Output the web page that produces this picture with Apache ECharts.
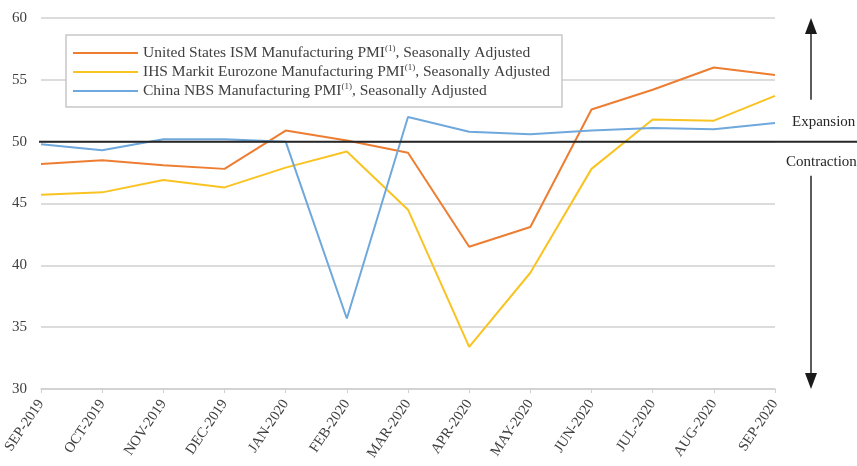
<!DOCTYPE html>
<html lang="en" style="height: 100%">
<head>
    <meta charset="utf-8">
    <title>Manufacturing PMI</title>
    <script src="https://cdn.jsdelivr.net/npm/echarts@6.0.0/dist/echarts.min.js"></script>
</head>
<body style="height: 100%; margin: 0; background: #fff">
<div id="container" style="width: 857px; height: 466px"></div>
<script type="text/javascript">
    const months = ['SEP-2019', 'OCT-2019', 'NOV-2019', 'DEC-2019', 'JAN-2020', 'FEB-2020', 'MAR-2020',
        'APR-2020', 'MAY-2020', 'JUN-2020', 'JUL-2020', 'AUG-2020', 'SEP-2020'];
    const usIsm = [48.2, 48.5, 48.1, 47.8, 50.9, 50.1, 49.1, 41.5, 43.1, 52.6, 54.2, 56.0, 55.4];
    const euroIhs = [45.7, 45.9, 46.9, 46.3, 47.9, 49.2, 44.5, 33.4, 39.4, 47.8, 51.8, 51.7, 53.7];
    const chinaNbs = [49.8, 49.3, 50.2, 50.2, 50.0, 35.7, 52.0, 50.8, 50.6, 50.9, 51.1, 51.0, 51.5];
    const seriesNames = ['United States ISM Manufacturing PMI', 'IHS Markit Eurozone Manufacturing PMI', 'China NBS Manufacturing PMI'];
    const threshold = 50;

    var font = '"Liberation Serif", "DejaVu Serif", serif';
    var dom = document.getElementById('container');
    var myChart = echarts.init(dom, null, {renderer: 'canvas'});

    function line(name, data, color) {
        return {
            name: name,
            type: 'line',
            data: data,
            symbol: 'none',
            lineStyle: {color: color, width: 2},
            itemStyle: {color: color}
        };
    }

    var option = {
        animation: false,
        grid: {left: 41, right: 82, top: 18, bottom: 77, outerBoundsMode: 'none'},
        legend: {
            orient: 'vertical',
            left: 66,
            top: 35,
            padding: [9, 12, 8, 7],
            backgroundColor: '#fff',
            borderColor: '#c8c8c8',
            borderWidth: 1.5,
            icon: 'rect',
            itemWidth: 65,
            itemHeight: 2,
            itemGap: 2,
            data: seriesNames,
            formatter: function (name) {
                return '{a|' + name + '}{s|(1)}{a|, Seasonally Adjusted}';
            },
            textStyle: {
                color: '#404040',
                fontFamily: font,
                rich: {
                    a: {fontSize: 15.5, fontFamily: font, color: '#404040', lineHeight: 18},
                    s: {fontSize: 9, fontFamily: font, color: '#404040', verticalAlign: 'top', lineHeight: 18, padding: [0, 0, 6, 0]}
                }
            }
        },
        xAxis: {
            type: 'category',
            data: months,
            boundaryGap: false,
            axisLine: {lineStyle: {color: '#d0d0d0', width: 1.5}},
            axisTick: {show: true, length: 4, lineStyle: {color: '#d0d0d0'}},
            axisLabel: {
                rotate: 56,
                interval: 0,
                margin: 12,
                color: '#404040',
                fontFamily: font,
                fontSize: 14.5
            }
        },
        yAxis: {
            type: 'value',
            min: 30,
            max: 60,
            interval: 5,
            axisLine: {show: false},
            axisTick: {show: false},
            splitLine: {lineStyle: {color: '#d0d0d0', width: 1.5}},
            axisLabel: {color: '#404040', fontFamily: font, fontSize: 15, margin: 14}
        },
        series: [
            line(seriesNames[0], usIsm, '#ED7D31'),
            line(seriesNames[1], euroIhs, '#F9C322'),
            line(seriesNames[2], chinaNbs, '#6FA8DC')
        ]
    };
    myChart.setOption(option);

    // threshold line across the plot and out to the right edge, plus the annotation arrows
    var y50 = myChart.convertToPixel({yAxisIndex: 0}, threshold);
    var yTop = myChart.convertToPixel({yAxisIndex: 0}, 60);
    var yBottom = myChart.convertToPixel({yAxisIndex: 0}, 30);
    var x0 = myChart.convertToPixel({xAxisIndex: 0}, 0);
    var W = myChart.getWidth();
    var ax = 811;
    myChart.setOption({
        graphic: {
            elements: [
                {type: 'line', shape: {x1: x0 - 2, y1: y50, x2: W, y2: y50}, style: {stroke: '#262626', lineWidth: 2}, z: 50},
                {type: 'line', shape: {x1: ax, y1: yTop + 10, x2: ax, y2: y50 - 42}, style: {stroke: '#262626', lineWidth: 1.5}},
                {type: 'polygon', shape: {points: [[ax, yTop], [ax - 6, yTop + 16], [ax + 6, yTop + 16]]}, style: {fill: '#1a1a1a'}},
                {type: 'line', shape: {x1: ax, y1: y50 + 34, x2: ax, y2: yBottom - 10}, style: {stroke: '#262626', lineWidth: 1.5}},
                {type: 'polygon', shape: {points: [[ax, yBottom], [ax - 6, yBottom - 16], [ax + 6, yBottom - 16]]}, style: {fill: '#1a1a1a'}},
                {type: 'text', x: 792, y: y50 - 20, style: {text: 'Expansion', font: '15px ' + font, fill: '#262626', textVerticalAlign: 'middle'}},
                {type: 'text', x: 786, y: y50 + 20, style: {text: 'Contraction', font: '15px ' + font, fill: '#262626', textVerticalAlign: 'middle'}}
            ]
        }
    });

    window.addEventListener('resize', myChart.resize);
</script>
</body>
</html>
